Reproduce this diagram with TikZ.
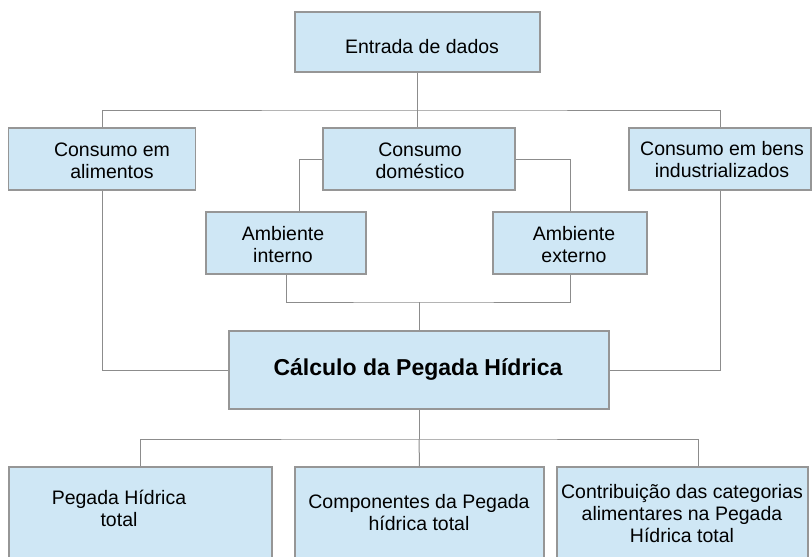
\documentclass[tikz,border=0pt]{standalone}
\usepackage{fontspec}
\setmainfont{Liberation Sans}
\definecolor{boxfill}{RGB}{207,231,245}
\definecolor{boxborder}{RGB}{150,150,150}
\definecolor{linegray}{RGB}{140,140,140}
\begin{document}
\begin{tikzpicture}[x=1pt,y=-1pt,
  box/.style={draw=boxborder, fill=boxfill, line width=1.2pt, inner sep=0pt, rectangle},
  txt/.style={font=\fontsize{19.5}{22}\selectfont, align=center, inner sep=0pt, text=black, anchor=base},
  btxt/.style={font=\fontsize{23}{26}\selectfont\bfseries, inner sep=0pt, text=black, anchor=base},
  conn/.style={draw=linegray, line width=1pt}]
\useasboundingbox (0,0) rectangle (812,557);
\clip (0,0) rectangle (812,557);
% boxes
\node[box, minimum width=245pt, minimum height=60pt] (entrada) at (417.5,42) {};
\node[box, minimum width=187pt, minimum height=62pt] (alim) at (102,159) {};
\node[box, minimum width=192pt, minimum height=62pt] (dom) at (419,159) {};
\node[box, minimum width=182pt, minimum height=62pt] (bens) at (720,159) {};
\node[box, minimum width=160pt, minimum height=62pt] (amint) at (286,243) {};
\node[box, minimum width=154pt, minimum height=62pt] (amext) at (570,243) {};
\node[box, minimum width=380pt, minimum height=78pt] (calc) at (419,370) {};
\node[box, minimum width=263pt, minimum height=100pt] (pht) at (140.5,517) {};
\node[box, minimum width=249pt, minimum height=100pt] (comp) at (419.5,517) {};
\node[box, minimum width=251pt, minimum height=100pt] (contr) at (682.5,517) {};
% texts (anchor at baseline of last line)
\node[txt] (tentrada) at (422,53) {Entrada de dados};
\node[txt] (talim) at (112,178) {Consumo em\\alimentos};
\node[txt] (tdom) at (420,178) {Consumo\\doméstico};
\node[txt] (tbens) at (722,177) {Consumo em bens\\industrializados};
\node[txt] (tamint) at (283,262) {Ambiente\\interno};
\node[txt] (tamext) at (574,262) {Ambiente\\externo};
\node[btxt] (tcalc) at (418,375) {Cálculo da Pegada Hídrica};
\node[txt] (tpht) at (119,526) {Pegada Hídrica\\total};
\node[txt] (tcomp) at (419,530) {Componentes da Pegada\\hídrica total};
\node[txt] (tcontr) at (682,542) {Contribuição das categorias\\alimentares na Pegada\\Hídrica total};
% connectors
\coordinate (j1) at (417.5,110);
\coordinate (j2) at (419,302);
\coordinate (j3) at (419,439);
\draw[conn] (entrada.south) -- (entrada.south |- dom.north);
\draw[conn] (alim.north) |- (j1) -| (bens.north);
\draw[conn] (dom.west) -| ([xshift=13pt]amint.north);
\draw[conn] (dom.east) -| (amext.north);
\draw[conn] (amint.south) |- (j2) -| (amext.south);
\draw[conn] (j2) -- (calc.north);
\draw[conn] (alim.south) |- (calc.west);
\draw[conn] (bens.south) |- (calc.east);
\draw[conn] (calc.south) -- (j3);
\draw[conn] (pht.north) |- (j3) -| ([xshift=15.5pt]contr.north);
\draw[conn] (j3) -- (comp.north);
\end{tikzpicture}
\end{document}
